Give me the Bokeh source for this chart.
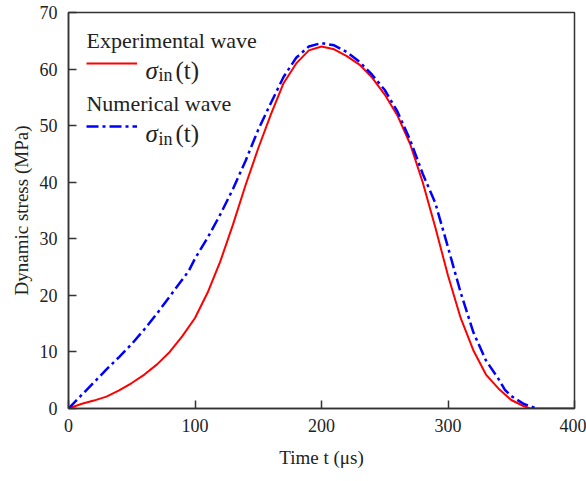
from bokeh.plotting import figure
from bokeh.models import Label, Legend, LegendItem, Range1d, FixedTicker
from bokeh.embed import file_html
from bokeh.resources import INLINE

# ---- data ----
t_exp = [0, 10, 20, 30, 40, 50, 60, 70, 80, 90, 100, 110, 120, 130, 140, 150, 160, 170,
         180, 190, 200, 210, 220, 230, 240, 250, 260, 270, 280, 290, 300, 310, 320, 330,
         340, 350, 360, 365, 400]
s_exp = [0, 0.8, 1.4, 2.1, 3.2, 4.5, 6.0, 7.8, 10.0, 12.8, 16.0, 20.5, 26.0, 32.5, 39.5,
         46.0, 52.0, 57.5, 61.0, 63.3, 64.0, 63.5, 62.3, 60.8, 58.5, 55.5, 51.8, 46.8,
         40.0, 32.0, 23.5, 16.0, 10.3, 6.0, 3.5, 1.5, 0.4, 0, 0]

t_num = [0, 10, 20, 30, 40, 50, 60, 70, 80, 90, 95, 100, 110, 120, 130, 140, 150, 160,
         170, 180, 190, 200, 210, 220, 230, 240, 250, 260, 270, 280, 290, 300, 310, 320,
         330, 340, 345, 350, 360, 370]
s_num = [0, 2.3, 4.6, 6.9, 9.1, 11.4, 14.0, 16.8, 19.8, 22.8, 24.3, 26.5, 30.2, 34.3,
         38.8, 43.8, 49.3, 54.0, 58.6, 62.0, 64.0, 64.6, 64.2, 63.0, 61.3, 59.0, 56.3,
         52.5, 47.5, 41.5, 36.3, 28.5, 20.5, 13.5, 8.5, 5.2, 3.3, 2.2, 0.8, 0]

x_ticks = [0, 100, 200, 300, 400]
y_ticks = [0, 10, 20, 30, 40, 50, 60, 70]

FONT = "Liberation Serif"
INK = "#222222"
AX = "#333333"

p = figure(width=586, height=481, output_backend="svg", toolbar_location=None,
           x_range=Range1d(0, 400), y_range=Range1d(0, 70),
           min_border_left=68, min_border_right=12, min_border_top=12,
           min_border_bottom=73)
p.xgrid.visible = False
p.ygrid.visible = False
p.outline_line_color = AX
p.outline_line_width = 1.5
p.background_fill_color = "white"
p.border_fill_color = "white"

for ax, ticks in ((p.xaxis[0], x_ticks), (p.yaxis[0], y_ticks)):
    ax.ticker = FixedTicker(ticks=ticks)
    ax.axis_line_color = AX
    ax.axis_line_width = 1.5
    ax.major_tick_line_color = AX
    ax.major_tick_line_width = 1.5
    ax.major_tick_in = 8
    ax.major_tick_out = 0
    ax.minor_tick_line_color = None
    ax.major_label_text_font = FONT
    ax.major_label_text_font_size = "18px"
    ax.major_label_text_color = INK
    ax.axis_label_text_font = FONT
    ax.axis_label_text_font_size = "19px"
    ax.axis_label_text_font_style = "normal"
    ax.axis_label_text_color = INK

p.xaxis.axis_label = "Time t (\u03bcs)"
p.yaxis.axis_label = "Dynamic stress (MPa)"
p.xaxis.major_label_standoff = 10
p.xaxis.axis_label_standoff = 12
p.yaxis.major_label_standoff = 11
p.yaxis.axis_label_standoff = 5

r_exp = p.line(t_exp, s_exp, line_color="#ff0000", line_width=2)
r_num = p.line(t_num, s_num, line_color="#0000ff", line_width=2.5, line_dash="12 4 3 4")

# legend samples
for rend, loc in ((r_exp, (18, 335)), (r_num, (18, 272))):
    lg = Legend(items=[LegendItem(label=" ", renderers=[rend])], location=loc,
                glyph_width=51, glyph_height=20, label_height=20, label_standoff=0,
                padding=0, margin=0, spacing=0, border_line_color=None,
                background_fill_alpha=0, label_text_font_size="2px")
    p.add_layout(lg)

def txt(x, y, s, size, style="normal"):
    p.add_layout(Label(x=x, y=y, text=s, text_font=FONT, text_font_size=size,
                       text_font_style=style, text_color=INK,
                       text_baseline="alphabetic", text_align="left"))

txt(14.2, 65.05, "Experimental wave", "22px")
txt(14.2, 53.9, "Numerical wave", "22px")
for yb, ys in ((59.75, 58.87), (48.6, 47.7)):
    txt(60.9, yb, "\u03c3", "25px", "italic")
    txt(71.1, ys, "in", "18px")
    txt(84.6, yb, "(t)", "25px")

open("out.html", "w").write(file_html(p, INLINE))
